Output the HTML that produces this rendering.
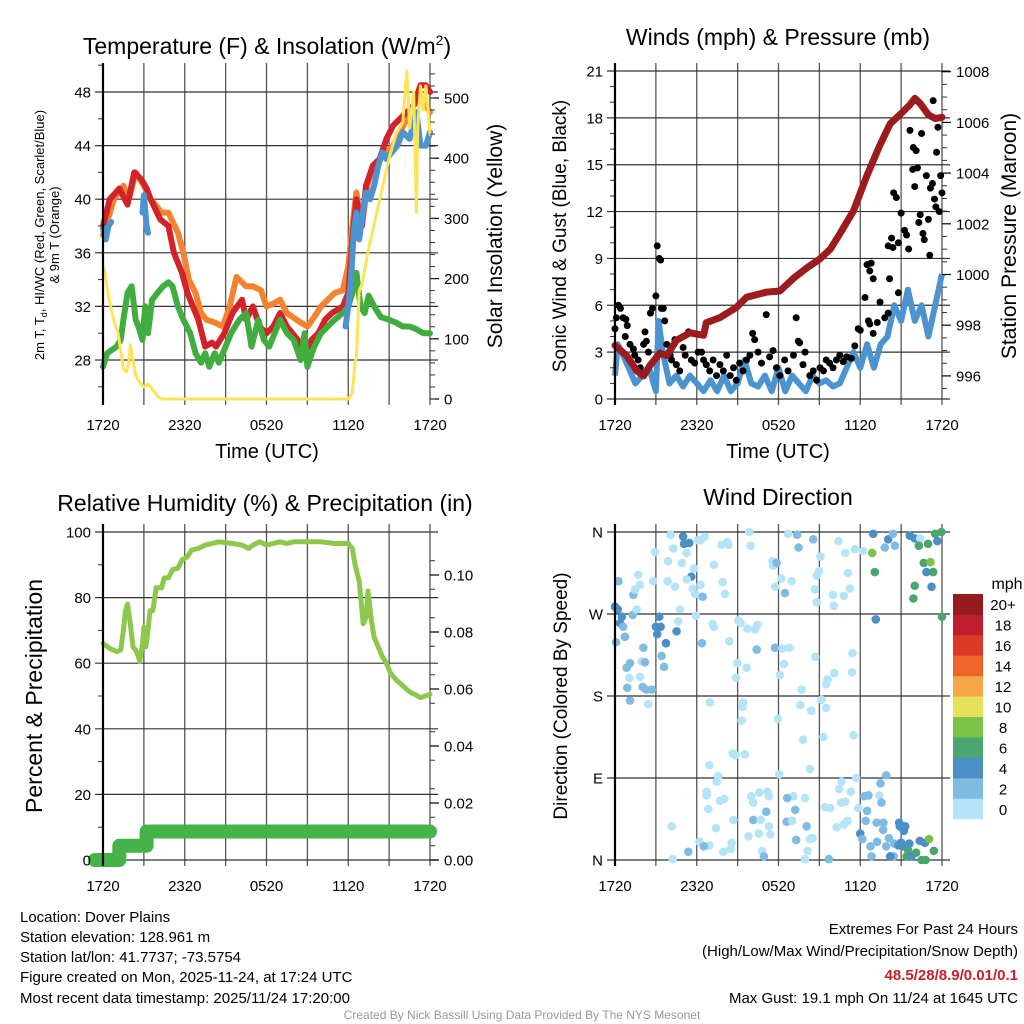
<!DOCTYPE html>
<html><head><meta charset="utf-8">
<style>
html,body{margin:0;padding:0;background:#fff;}
svg{display:block;font-family:"Liberation Sans",sans-serif;}
</style></head>
<body>
<svg id="c" width="1024" height="1024" viewBox="0 0 1024 1024" xmlns="http://www.w3.org/2000/svg">
<g id="grid"></g>
<g id="marks"></g>
<g id="axes"></g>
<g id="texts">
<text x="267" y="54" font-size="23" text-anchor="middle">Temperature (F) &amp; Insolation (W/m<tspan dy="-9" font-size="14">2</tspan><tspan dy="9">)</tspan></text>
<text x="778" y="45" font-size="23" text-anchor="middle">Winds (mph) &amp; Pressure (mb)</text>
<text x="265" y="511" font-size="23" text-anchor="middle">Relative Humidity (%) &amp; Precipitation (in)</text>
<text x="778" y="505" font-size="23" text-anchor="middle">Wind Direction</text>
<text x="267" y="458" font-size="20" text-anchor="middle">Time (UTC)</text>
<text x="778" y="458" font-size="20" text-anchor="middle">Time (UTC)</text>
<text transform="translate(44,235) rotate(-90)" font-size="13" text-anchor="middle">2m T, T<tspan font-size="9" dy="3">d</tspan><tspan dy="-3">, HI/WC (Red, Green, Scarlet/Blue)</tspan></text>
<text transform="translate(59,235) rotate(-90)" font-size="13" text-anchor="middle">&amp; 9m T (Orange)</text>
<text transform="translate(502,236) rotate(-90)" font-size="21" text-anchor="middle">Solar Insolation (Yellow)</text>
<text transform="translate(566,236) rotate(-90)" font-size="19" text-anchor="middle">Sonic Wind &amp; Gust (Blue, Black)</text>
<text transform="translate(1016,236) rotate(-90)" font-size="21" text-anchor="middle">Station Pressure (Maroon)</text>
<text transform="translate(42,696) rotate(-90)" font-size="23" text-anchor="middle">Percent &amp; Precipitation</text>
<text transform="translate(567,696) rotate(-90)" font-size="19" text-anchor="middle">Direction (Colored By Speed)</text>
<text x="1007" y="589" font-size="16" text-anchor="middle">mph</text>
<g font-size="15">
<text x="20" y="922">Location: Dover Plains</text>
<text x="20" y="942">Station elevation: 128.961 m</text>
<text x="20" y="962">Station lat/lon: 41.7737; -73.5754</text>
<text x="20" y="982">Figure created on Mon, 2025-11-24, at 17:24 UTC</text>
<text x="20" y="1003">Most recent data timestamp: 2025/11/24 17:20:00</text>
</g>
<g font-size="15" text-anchor="end">
<text x="1018" y="934">Extremes For Past 24 Hours</text>
<text x="1018" y="956">(High/Low/Max Wind/Precipitation/Snow Depth)</text>
<text x="1018" y="980" fill="#c8202a" font-weight="bold">48.5/28/8.9/0.01/0.1</text>
<text x="1018" y="1003">Max Gust: 19.1 mph On 11/24 at 1645 UTC</text>
</g>
<text x="522" y="1019" font-size="12" fill="#999" text-anchor="middle">Created By Nick Bassill Using Data Provided By The NYS Mesonet</text>
</g>
</svg>
<script>
// ---------- DATA ----------
const xTickLabels = ["1720","2320","0520","1120","1720"];
const tempTicks = [28,32,36,40,44,48];
const solarTicks = [0,100,200,300,400,500];
const windTicks = [0,3,6,9,12,15,18,21];
const pressTicks = [996,998,1000,1002,1004,1006,1008];
const rhTicks = [0,20,40,60,80,100];
const precipTicks = [0,0.02,0.04,0.06,0.08,0.10];
const dirTicks = [0,90,180,270,360];
const dirLabels = ["N","E","S","W","N"];
const speedBinLabels = ["0","2","4","6","8","10","12","14","16","18","20+"];
const speedBinColors = ["#b5e3f8","#80bbe4","#4a8fc6","#4aa56e","#7bc24b","#e6e05a","#f5a646","#f0652b","#dc3a27","#be1e2d","#961b1e"];

const redT_h = [0,0.5,1.2,1.8,2.3,2.8,3.2,3.5,4.2,4.8,5.2,5.8,6.2,6.6,7,7.5,8,8.3,8.9,9.5,10.2,10.5,11,11.5,12,12.5,13,13.5,14.3,14.8,15.3,15.8,16.3,16.8,17.6,18,18.3,18.6,19,19.3,19.8,20.3,20.8,21.3,21.8,22.3,22.8,23.3,23.7,24];
const redT_v = [38,40,40.8,39.6,42,41.5,40.8,40,38.5,38,36,34.5,33,32,31,29,29.3,29,30,31.5,32.5,31,32,30.5,30,30.5,31.5,30.5,29.5,28.5,29.5,30,31,31.5,32,33,37,40,38,41,42.5,43,44.5,45.5,46,46.5,47,48.5,48.5,48];
const orT_h = [0,0.8,1.5,1.9,2.4,3,3.5,4.3,4.8,5.5,5.9,6.3,6.8,7.2,7.6,8.2,8.8,9.3,9.8,10.5,11,11.6,12,12.5,13,13.5,14.5,15,15.5,16,16.5,17,17.6,18,18.3,18.6,19,19.4,19.8,20.3,20.8,21.3,21.8,22.3,22.8,23.3,23.7,24];
const orT_v = [37.3,40,41,40,42,41,40,39,39,37.5,36,34,33,31.5,31,30.8,30.5,32,34.2,33.5,33.5,33.2,32,32.2,32.5,31.5,30.8,30.5,31.2,32,32.5,33,33.2,35,38,40.5,38,41,42.5,43,43.5,44,45,46,47,47.5,47,46.5];
const blueT_h = [0,0.2,0.4,0.6,null,2.9,3.0,3.2,3.3,null,17.8,18.0,18.2,18.4,18.6,18.8,19.0,19.3,19.6,19.9,20.2,20.5,20.8,21.2,21.6,22,22.5,23,23.3,23.7,24];
const blueT_v = [37.8,37,38,38.3,null,39,40.3,38,37.5,null,30.5,32,34,37.5,39,37,38.5,40.5,40,41,42.5,43.5,43,43.5,44,45,44.5,46.5,44,44,45];
const dewT_h = [0,0.3,1,1.3,1.5,1.8,2.1,2.4,2.6,2.9,3.1,3.3,3.6,4,4.4,4.8,5.1,5.5,5.9,6.4,6.8,7.2,7.5,7.8,8.2,8.5,9,9.4,10,10.5,10.9,11.4,11.8,12.2,12.6,13,13.5,14,14.5,14.8,15,15.5,16,16.5,17,17.6,18,18.3,18.6,18.9,19.2,19.5,19.9,20.4,21,21.5,22,22.5,23,23.5,24];
const dewT_v = [27.5,28.5,29,29.5,31,33,33.5,31,30.5,29.5,32,30,32.5,33,33.5,33.8,33.5,32,31,30,28.5,27.8,28.5,27.5,28.5,27.8,29,30,31,31.5,29,31,29.5,29,30,31,30,29.5,28,30,27.5,29,30,30.5,31,31.5,32,33,34.5,32,31.5,32.8,32,31.2,31,30.8,30.5,30.5,30.3,30,30];
const solar_h = [0,0.1,0.4,0.8,1.1,1.3,1.5,1.7,1.9,2.0,2.2,2.4,2.6,3,3.3,3.5,4,4.3,18.0,18.3,18.5,18.6,18.7,18.8,19,19.5,20,20.5,21,21.5,22,22.3,22.5,22.8,23,23.1,23.3,23.5,23.7,24];
const solar_v = [220,215,170,130,110,80,50,45,60,90,65,40,30,20,25,20,5,0,0,10,60,70,120,180,190,250,300,350,400,440,460,545,450,510,310,450,520,480,520,440];

const wind_h = [0,0.2,0.5,1,1.5,2,2.5,3,3.2,3.5,4,4.5,5,5.5,6,6.5,7,7.5,8,8.5,9,9.5,10,10.5,11,11.5,12,12.5,13,13.5,14,14.5,15,15.5,16,16.5,17,17.5,18,18.5,19,19.5,20,20.5,21,21.5,22,22.5,23,23.5,24];
const wind_v = [1.5,3.5,3,2,1,1.5,2,0.5,5,3,1,1.5,0.8,1.5,1,0.5,1.2,0.5,1.5,0.5,1,2.5,1,0.8,1.5,0.5,2,0.5,1.5,1,0.5,1.5,1,1.2,0.8,1,2,3,2,3.5,2,3.5,4,6,5,7,5,6,4,6,8];
const gust_h = [0,0.1,0.25,0.4,0.6,0.8,0.9,0.75,1.1,1.35,1.45,1.7,1.85,2.1,2.2,2.3,2.45,2.6,2.75,3.0,3.1,3.25,3.35,3.4,3.55,3.65,3.8,4.05,4.15,4.4,4.5,4.75,5.0,5.15,5.4,5.6,5.85,6.1,6.35,6.5,6.7,6.95,7.2,7.45,7.7,7.95,8.2,8.45,8.7,8.9,9.15,9.4,9.65,9.9,10.1,10.25,10.5,10.75,11.1,11.35,11.6,11.85,12.1,12.45,12.7,13.1,13.3,13.45,13.55,13.8,13.95,14.3,14.55,14.8,15.05,15.3,15.5,15.75,16.0,16.25,16.5,16.75,17,17.35,17.6,17.85,18.0,18.35,18.5,18.7,18.8,18.95,18.6,18.7,18.95,19.25,19.45,19.8,20.05,20.15,20.45,20.65,20.05,20.3,20.4,20.8,20.8,21.0,21.25,21.4,21.55,21.65,21.85,21.9,22.0,22.1,22.2,22.3,22.4,22.5,22.6,22.7,22.85,23.0,23.1,23.15,23.3,23.35,23.45,23.55,23.6,23.7,23.8,23.9,24.0];
const gust_v = [4.5,5.2,6,5.8,5.2,5.1,4.7,4,3.5,3.2,2.8,2.5,2,3.5,4.3,3.7,3,5.5,5.8,6.6,9.8,9,8.9,5.8,5.8,5,3.5,2.8,2.5,3.8,2.2,1.8,3.3,2.8,4.3,2.5,2.3,3,3,2.5,2.2,1.8,2.5,1.5,2.2,1.8,2.8,1.5,2.0,1.2,2.3,1.8,2.5,2.8,4.2,3.8,3,2.3,5.4,2.7,3.1,2,1.5,2.5,1.8,2.8,5.2,3.7,3.6,2.2,3,1.5,1.8,1.2,2,1.8,2.5,2.3,2.0,2.5,2.8,2.4,2.7,2.6,3.4,4.5,4.4,6.5,8.6,8.2,8.7,7.7,5,4.8,4.2,4.9,6.2,5.2,5.5,7.7,13.2,12.9,9.8,10.3,9.7,6.8,10,11.9,10.8,10.5,9.6,17.2,14.7,16.1,13.6,15.9,14.8,11.3,11.8,17,10.6,10.2,14.3,11.5,9.2,13.5,13.8,19.1,12.8,12.3,15.8,17.4,12,14.3,13.2];
const press_h = [0,0.85,1.6,2.1,2.55,3.3,3.8,4.5,5.5,6.5,6.7,7.7,8.9,9.65,11.1,12.1,13.1,14.05,15.0,15.8,16.5,17.5,18.45,19.4,20.2,20.9,21.65,22.0,22.4,23.0,23.5,24];
const press_v = [997.2,996.8,996.2,996.0,996.4,996.9,996.8,997.4,997.7,997.6,998.1,998.3,998.7,999.1,999.3,999.35,999.85,1000.25,1000.6,1001.0,1001.6,1002.5,1003.85,1005.05,1005.95,1006.3,1006.7,1006.95,1006.75,1006.3,1006.15,1006.2];

const rh_h = [0,0.5,1.0,1.3,1.5,1.65,1.8,2.0,2.2,2.4,2.6,2.7,2.9,3.0,3.15,3.3,3.45,3.65,3.8,3.9,4.3,4.5,4.8,5.1,5.5,5.8,6.2,6.5,7.0,7.5,8.0,8.5,9.5,10.2,10.7,11.0,11.5,12,12.5,13,13.5,14,15,16,17,17.5,18.0,18.3,18.5,18.8,19.1,19.3,19.45,19.7,19.9,20.2,20.5,20.8,21.1,21.5,21.9,22.3,22.6,22.9,23.3,24];
const rh_v = [66,64.5,63.5,64,70,76,78,72,65,64,62,60.5,66,71,65,70,76,76,80,83,83,86,86,88.5,89,91.5,92.5,94.5,95,96,96.5,97,96.5,96,95,96,97,96,96.5,97,96.5,97,97,97,96.5,96.5,96.5,95,90,85,72,74,82,73,68,65,62,60,57,55,53.5,52,51,50.5,49.5,50.5];
const precip_h = [-0.6,1.2,1.2,3.2,3.2,24];
const precip_v = [0,0,0.005,0.005,0.01,0.01];

const dir_h = [0.25,0,0.2,0.5,0.37,0.6,0.07,0.73,0.85,1.1,1.05,0.9,1.1,1.35,1.3,1.6,1.7,1.83,1.47,2.08,1.96,2.2,1.83,2.03,2.3,2.44,2.7,2.93,2.8,3.0,3.1,3.35,3.25,3.74,3.42,3.6,3.9,4.08,4.28,4.4,3.86,4.77,4.52,4.64,5.0,5.07,5.45,5.26,4.9,5.6,5.26,5.8,5.7,5.87,5.94,6.09,6.28,6.58,6.43,6.28,6.38,7.26,7.9,8.07,7.17,7.26,7.82,8.24,8.32,8.39,6.97,6.72,6.92,7.58,7.46,6.72,6.85,7.41,7.7,8.02,6.19,6.93,6.52,5.38,4.16,4.23,7.95,8.48,8.56,8.69,8.63,8.85,9.53,8.88,8.98,9.05,9.22,9.66,9.71,9.86,9.95,10.27,10.46,10.4,9.41,9.36,9.29,10.0,10.15,10.6,11.2,11.3,11.1,10.15,10.7,11.3,9.8,10.56,11.4,10.8,10.93,11.56,11.6,11.86,12.2,12.96,11.76,12.47,11.74,12.3,12.8,12.4,12.1,11.96,12.05,12.71,13.37,13.47,14.55,15.08,14.98,14.8,14.67,14.8,14.7,13.7,13.6,14.4,13.8,14.3,15.16,15.5,15.3,16.0,16.06,16.8,17.24,17.1,16.9,16.4,17.6,18.2,17.43,17.4,16.1,15.6,15.5,17.5,17.7,16.63,16.45,17.3,16.9,16.6,15.4,15.8,13.1,13.23,12.64,12.6,13.0,13.94,14.06,14.3,14.5,14.13,13.94,13.3,15.7,16.26,16.8,17.07,17.85,18.3,18.6,18.5,18.4,18.0,18.15,18.75,18.83,19.24,19.4,19.56,19.48,19.9,19.2,19.7,19.68,19.9,20.1,20.45,20.5,20.2,20.86,20.9,21.0,21.3,21.2,20.8,21.1,21.5,21.6,21.4,21.76,22.1,22.37,22.74,23.05,22.5,22.8,23.4,18.95,18.88,19.07,19.14,20.05,20.4,20.54,19.8,21.64,22.0,22.4,22.3,22.98,23.5,23.66,23.96,22.66,23.15,22.86,23.35,22.0,23.23,21.9,24.0];
const dir_v = [306,278,275,267,260,256,239,245,211,216,200,189,175,291,269,275,313,302,297,233,218,217,201,190,187,171,187,338,306,256,248,256,267,238,224,212,328,357,342,300,306,275,251,262,355,347,348,337,326,311,308,320,298,292,268,351,351,355,289,302,238,324,305,292,259,256,346,349,346,240,173,75,104,92,86,71,56,35,65,67,20,16,15,9,37,1,9,12,19,44,117,115,116,200,216,263,260,211,254,360,345,253,258,231,173,168,153,70,63,74,75,70,53,44,44,37,26,29,28,10,4,328,323,326,309,306,300,293,233,232,233,215,203,155,94,358,357,343,352,333,317,312,297,283,223,187,170,164,132,100,176,167,135,291,279,290,298,315,337,350,341,339,227,206,205,198,193,137,90,86,78,75,64,63,58,57,70,55,68,42,43,68,37,23,24,10,1,22,1,36,39,43,57,70,71,54,43,29,23,15,4,20,71,63,84,93,41,41,33,15,24,4,18,4,41,37,19,37,32,16,15,11,18,4,4,8,21,19,23,0,0,10,358,337,316,264,352,358,345,343,356,353,353,345,347,358,350,360,326,327,316,316,301,300,287,267];
const dir_s = [2.5,4.5,4.5,4.5,4.5,2.5,2.5,2.5,2.5,2.5,1,2.5,2.5,2.5,2.5,1,1,1,1,2.5,1,2.5,1,2.5,2.5,1,2.5,1,1,4.5,4.5,4.5,4.5,4.5,2.5,2.5,1,1,1,1,1,1,4.5,1,4.5,4.5,4.5,1,1,4.5,1,1,1,1,1,1,1,1,2.5,1,2.5,1,1,1,1,1,1,1,1,1,1,1,1,1,1,1,1,1,1,1,1,1,2.5,2.5,1,1,1,1,1,1,1,1,1,1,1,1,1,1,1,1,1,1,1,2.5,1,1,1,1,1,1,1,1,2.5,2.5,1,1,1,1,1,1,2.5,1,1,2.5,1,1,1,2.5,2.5,1,1,1,1,1,1,1,2.5,2.5,2.5,1,1,1,1,1,1,1,1,1,1,1,1,1,1,1,1,1,1,1,1,1,1,1,1,1,1,1,1,1,1,1,1,1,1,1,1,1,1,2.5,2.5,2.5,1,1,2.5,1,1,1,1,2.5,2.5,1,1,1,1,2.5,2.5,2.5,2.5,4.5,2.5,2.5,2.5,2.5,1,2.5,2.5,2.5,2.5,2.5,2.5,2.5,2.5,2.5,2.5,4.5,4.5,4.5,4.5,4.5,4.5,4.5,4.5,6.5,4.5,6.5,4.5,6.5,4.5,4.5,8.5,6.5,6.5,6.5,4.5,8.5,6.5,4.5,4.5,2.5,2.5,2.5,4.5,4.5,1,6.5,6.5,6.5,4.5,6.5,6.5,8.5,4.5,6.5,6.5,4.5,6.5,6.5,4.5,8.5,6.5];

// ---------- GEOMETRY ----------
const NS = "http://www.w3.org/2000/svg";
const gGrid = document.getElementById('grid');
const gMarks = document.getElementById('marks');
const gAxes = document.getElementById('axes');
function mk(tag, attrs, parent){
  const e = document.createElementNS(NS, tag);
  for (const k in attrs) e.setAttribute(k, attrs[k]);
  parent.appendChild(e);
  return e;
}
const P = {
  tl:{x0:103,x1:430,y0:71,y1:399},
  tr:{x0:615,x1:942,y0:71,y1:399},
  bl:{x0:103,x1:430,y0:532,y1:860},
  br:{x0:615,x1:942,y0:532,y1:860}
};
function xs(p){ return h => p.x0 + h*(p.x1-p.x0)/24; }
const yTemp = v => 92 + (48-v)*13.4;
const ySolar = v => 399 - v*0.602;
const yWind = v => 399 - v*328/21;
const yPress = v => 71.7 + (1008-v)*25.35;
const yRH = v => 860 - v*3.28;
const yPrecip = v => 860 - v*2850;
const yDir = v => 860 - v*328/360;

function linePath(hs, vs, xf, yf){
  let d = "", pen = false;
  for (let i=0;i<hs.length;i++){
    if (hs[i]===null || vs[i]===null){ pen=false; continue; }
    d += (pen?"L":"M") + xf(hs[i]).toFixed(1) + "," + yf(vs[i]).toFixed(1);
    pen = true;
  }
  return d;
}

function frame(p, name, leftTicks, leftF, leftLab, leftMinor, rightTicks, rightF, rightLab, rightMinor, xlabels){
  const X = xs(p);
  for (let i=0;i<=8;i++){
    const x = X(i*3);
    const l = mk('line',{x1:x,x2:x,y1:p.y0-8,y2:p.y1+6,stroke:'#555','stroke-width':1.3},gGrid);
    
    
  }
  leftTicks.forEach((v,i)=>{
    const y = leftF(v);
    const l = mk('line',{x1:p.x0-8,x2:p.x1+8,y1:y,y2:y,stroke:'#333','stroke-width':1.2},gGrid);
    
    
    const t = mk('text',{x:p.x0-12,y:y+5.5,'font-size':15,'text-anchor':'end'},gAxes);
    t.textContent = leftLab[i];
    
    
  });
  leftMinor.forEach(v=>{
    const y = leftF(v);
    mk('line',{x1:p.x0-5,x2:p.x0,y1:y,y2:y,stroke:'#333','stroke-width':1},gAxes);
  });
  if (rightTicks){
    rightTicks.forEach((v,i)=>{
      const y = rightF(v);
      mk('line',{x1:p.x1,x2:p.x1+9,y1:y,y2:y,stroke:'#000','stroke-width':1.2},gAxes);
      const t = mk('text',{x:p.x1+14,y:y+5.5,'font-size':15},gAxes);
      t.textContent = rightLab[i];
      
      
    });
    rightMinor.forEach(v=>{
      const y = rightF(v);
      mk('line',{x1:p.x1,x2:p.x1+5,y1:y,y2:y,stroke:'#333','stroke-width':1},gAxes);
    });
  }
  const ax = mk('line',{x1:p.x0,x2:p.x0,y1:p.y0-8,y2:p.y1+6,stroke:'#000','stroke-width':2.2},gAxes);
  
  
  if (xlabels){
    xTickLabels.forEach((s,i)=>{
      const t = mk('text',{x:X(i*6),y:p.y1+31,'font-size':15,'text-anchor':'middle'},gAxes);
      t.textContent = s;
      
      
    });
  }
}
function range(a,b,s){ const r=[]; for(let v=a; v<=b+1e-9; v+=s) r.push(+v.toFixed(4)); return r; }

// ---------- TEMPERATURE ----------
frame(P.tl,'temp',tempTicks,yTemp,tempTicks.map(String),range(26,50,2),solarTicks,ySolar,solarTicks.map(String),range(0,540,20),true);
(function(){
  const X = xs(P.tl);
  const series = [
    [orT_h,orT_v,'#f5822f',6,'orange-9m-temp-line'],
    [redT_h,redT_v,'#d2232a',6,'red-2m-temp-line'],
    [dewT_h,dewT_v,'#41ad3f',6,'green-dewpoint-line'],
    [blueT_h,blueT_v,'#4b94cf',6,'blue-windchill-line'],
    [solar_h,solar_v,'#fde35a',3,'yellow-solar-line']
  ];
  series.forEach(s=>{
    const yf = s[4]==='yellow-solar-line' ? ySolar : yTemp;
    const el = mk('path',{d:linePath(s[0],s[1],X,yf),fill:'none',stroke:s[2],'stroke-width':s[3],'stroke-linejoin':'round','stroke-linecap':'round'},gMarks);
    
    
  });
})();

// ---------- WIND ----------
frame(P.tr,'wind',windTicks,yWind,windTicks.map(String),range(1,20,1).filter(v=>v%3),pressTicks,yPress,pressTicks.map(String),range(995.5,1007.5,0.5).filter(v=>v%2),true);
(function(){
  const X = xs(P.tr);
  const wl = mk('path',{d:linePath(wind_h,wind_v,X,yWind),fill:'none',stroke:'#4b94cf','stroke-width':6,'stroke-linejoin':'round'},gMarks);
  
  
  gust_h.forEach((h,i)=>{
    const c = mk('circle',{cx:X(h),cy:yWind(gust_v[i]),r:3.5,fill:'#000'},gMarks);
    
    
  });
  const pl = mk('path',{d:linePath(press_h,press_v,X,yPress),fill:'none',stroke:'#9b1b1e','stroke-width':7,'stroke-linejoin':'round','stroke-linecap':'round'},gMarks);
  
  
})();

// ---------- RH ----------
frame(P.bl,'rh',rhTicks,yRH,rhTicks.map(String),range(10,90,20),precipTicks,yPrecip,precipTicks.map(v=>v.toFixed(2)),range(0.005,0.11,0.005).filter((v,i)=>i%2===0),true);
(function(){
  const X = xs(P.bl);
  const pr = mk('path',{d:linePath(precip_h,precip_v,X,yPrecip),fill:'none',stroke:'#46b24a','stroke-width':14,'stroke-linecap':'round','stroke-linejoin':'round'},gMarks);
  
  
  const rl = mk('path',{d:linePath(rh_h,rh_v,X,yRH),fill:'none',stroke:'#8cc84b','stroke-width':5,'stroke-linejoin':'round','stroke-linecap':'round'},gMarks);
  
  
})();

// ---------- DIRECTION ----------
frame(P.br,'direction',dirTicks,yDir,dirLabels,[],null,null,null,null,true);
(function(){
  const X = xs(P.br);
  dir_h.forEach((h,i)=>{
    const bin = Math.min(10, Math.floor(dir_s[i]/2));
    const c = mk('circle',{cx:X(h),cy:yDir(dir_v[i]),r:4.3,fill:speedBinColors[bin]},gMarks);
    
    
  });
  const top=594, bot=819, n=speedBinLabels.length, bh=(bot-top)/n;
  speedBinLabels.forEach((lab,i)=>{
    const y = bot-(i+1)*bh;
    const r = mk('rect',{x:953,y:y,width:30,height:bh+0.3,fill:speedBinColors[i]},gAxes);
    
    
    const t = mk('text',{x:1003,y:y+bh/2+6,'font-size':15,'text-anchor':'middle'},gAxes);
    t.textContent = lab;
    
    
  });
})();
</script>
</body></html>
